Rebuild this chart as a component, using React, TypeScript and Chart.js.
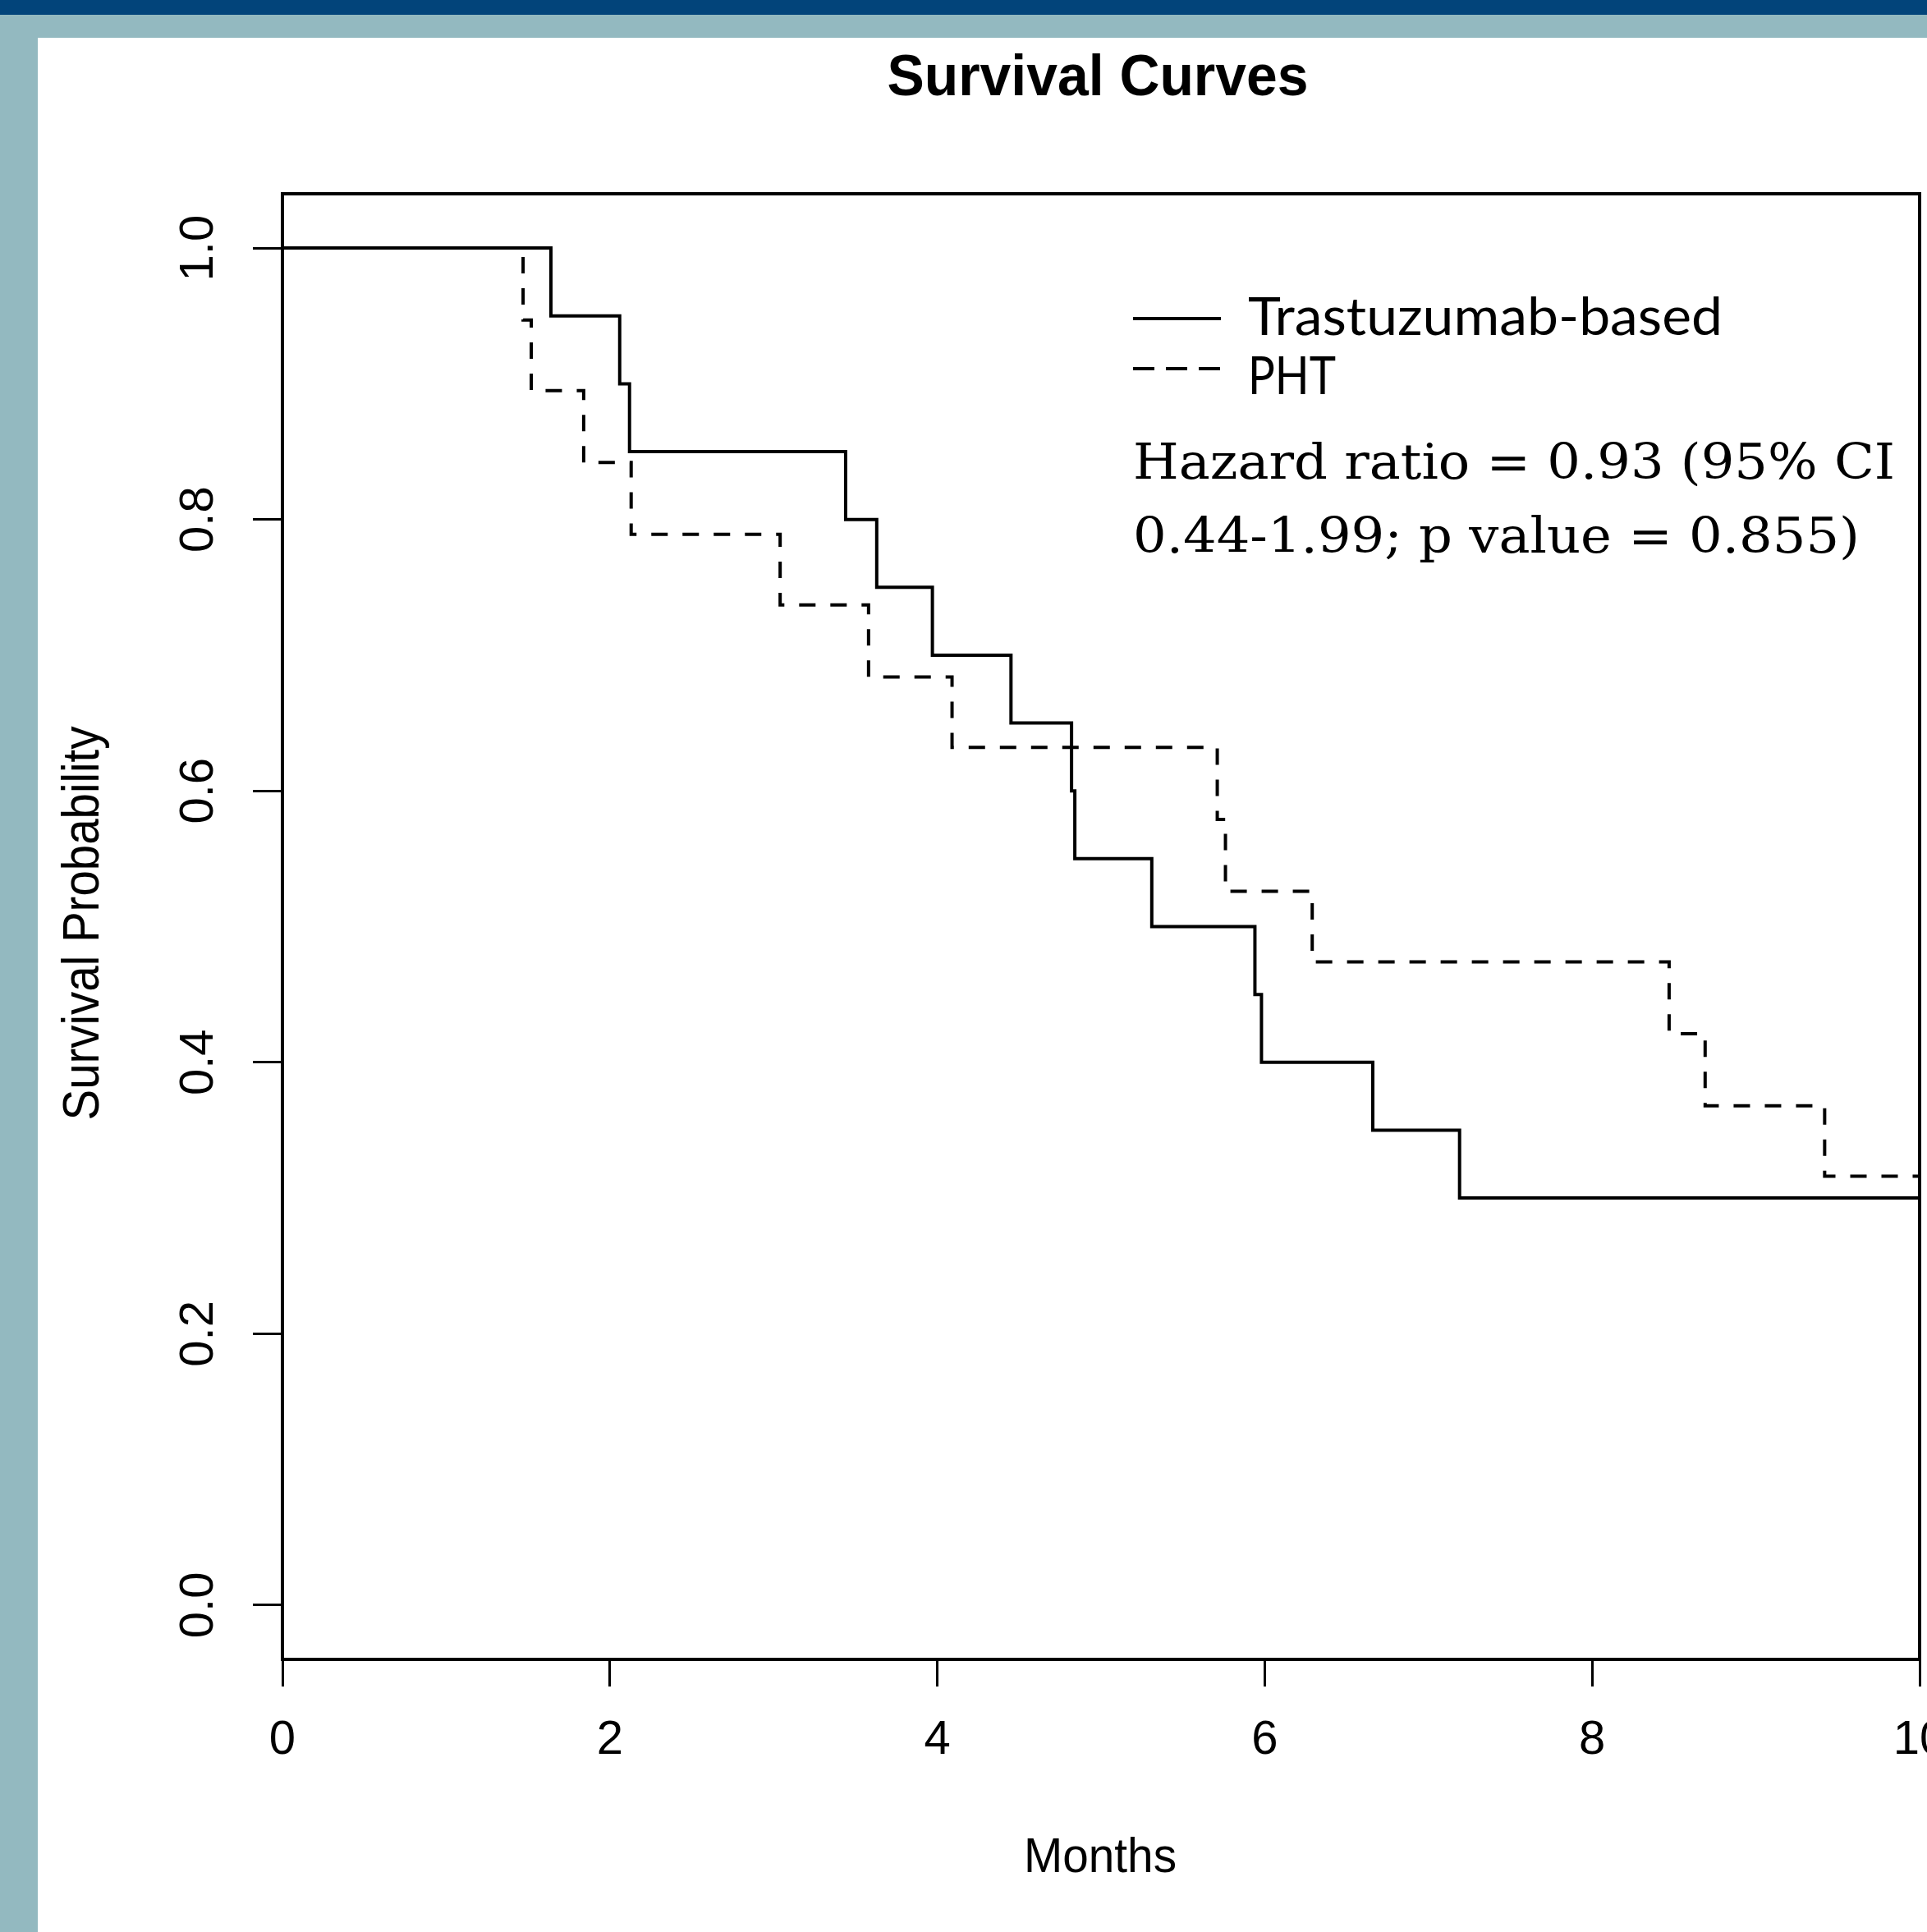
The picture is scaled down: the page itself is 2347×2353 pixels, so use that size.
import React, { useEffect, useRef } from "react";
import { Chart, registerables } from "chart.js";

Chart.register(...registerables);

// ---------- data ----------
const TITLE = "Survival Curves";
const X_LABEL = "Months";
const Y_LABEL = "Survival Probability";
const SERIES_NAMES = ["Trastuzumab-based", "PHT"];
const ANNOTATION_LINES = ["Hazard ratio = 0.93 (95% CI", "0.44-1.99; p value = 0.855)"];

const trastuzumabTimes = [0, 1.64, 2.06, 2.12, 3.44, 3.63, 3.97, 4.45, 4.82, 4.84, 5.31, 5.94, 5.98, 6.66, 7.19, 10];
const trastuzumabSurvival = [1.0, 0.95, 0.9, 0.85, 0.8, 0.75, 0.7, 0.65, 0.6, 0.55, 0.5, 0.45, 0.4, 0.35, 0.3, 0.3];

const phtTimes = [0, 1.47, 1.52, 1.84, 2.13, 3.04, 3.58, 4.09, 5.71, 5.76, 6.29, 8.47, 8.69, 9.42, 10];
const phtSurvival = [1.0, 0.947, 0.895, 0.842, 0.789, 0.737, 0.684, 0.632, 0.579, 0.526, 0.474, 0.421, 0.368, 0.316, 0.316];

const xTicks = [0, 2, 4, 6, 8, 10];
const yTicks = [0, 0.2, 0.4, 0.6, 0.8, 1.0];
const X_RANGE = [0, 10];
const Y_RANGE = [-0.04, 1.04];

// ---------- styling ----------
const W = 2347;
const H = 2353;
const NAVY = "#02447a";
const TEAL = "#93b9c0";
const TICK_FONT = "'Liberation Sans Narrow', 'Liberation Sans', Arial, sans-serif";
const SANS = "'Liberation Sans', Arial, sans-serif";
const PLOT_DASH = [20, 18];

function fitText(
  ctx: CanvasRenderingContext2D,
  text: string,
  x: number,
  y: number,
  width: number,
  font: string,
  align: CanvasTextAlign = "left",
  rotate = 0
) {
  ctx.save();
  ctx.font = font;
  const m = ctx.measureText(text).width || 1;
  ctx.translate(x, y);
  if (rotate) ctx.rotate(rotate);
  ctx.scale(width / m, 1);
  ctx.textAlign = align;
  ctx.textBaseline = "alphabetic";
  ctx.fillStyle = "#000";
  ctx.fillText(text, 0, 0);
  ctx.restore();
}

const framePlugin = {
  id: "rFrame",
  beforeDraw(chart: any) {
    const ctx: CanvasRenderingContext2D = chart.ctx;
    ctx.save();
    ctx.fillStyle = TEAL;
    ctx.fillRect(0, 0, W, H);
    ctx.fillStyle = NAVY;
    ctx.fillRect(0, 0, W, 18);
    ctx.fillStyle = "#ffffff";
    ctx.fillRect(46, 46, W - 46, H - 46);
    ctx.restore();
  },
  afterDatasetsDraw(chart: any) {
    const ctx: CanvasRenderingContext2D = chart.ctx;
    const a = chart.chartArea;
    ctx.save();
    ctx.strokeStyle = "#000";
    ctx.lineWidth = 4;
    ctx.strokeRect(a.left, a.top, a.right - a.left, a.bottom - a.top);
    ctx.restore();
  },
  afterDraw(chart: any) {
    const ctx: CanvasRenderingContext2D = chart.ctx;
    const a = chart.chartArea;
    const cx = (a.left + a.right) / 2;
    const cy = (a.top + a.bottom) / 2;

    // title
    fitText(ctx, TITLE, cx - 4, 116, 513, `bold 70px ${SANS}`, "center");
    // axis titles
    fitText(ctx, X_LABEL, cx - 1, 2280, 186, `60px ${SANS}`, "center");
    fitText(ctx, Y_LABEL, 120, cy - 4, 480, `63px ${SANS}`, "center", -Math.PI / 2);

    // legend
    const ds = chart.data.datasets;
    const legendRows = [
      { y: 388, text: 408, width: 578 },
      { y: 449, text: 480, width: 107 },
    ];
    legendRows.forEach((row, i) => {
      ctx.save();
      ctx.strokeStyle = "#000";
      ctx.lineWidth = 4;
      ctx.setLineDash(i === 0 ? [] : [26, 14]);
      ctx.beginPath();
      ctx.moveTo(1380, row.y);
      ctx.lineTo(1487, row.y);
      ctx.stroke();
      ctx.restore();
      fitText(ctx, ds[i].label, 1520, row.text, row.width, `64px Lato, 'Open Sans', sans-serif`);
    });

    // annotation
    fitText(ctx, ANNOTATION_LINES[0], 1380, 583, 928, `60px 'DejaVu Serif', serif`);
    fitText(ctx, ANNOTATION_LINES[1], 1380, 673, 885, `60px 'DejaVu Serif', serif`);
  },
};

export default function App() {
  const ref = useRef<HTMLCanvasElement | null>(null);

  useEffect(() => {
    if (!ref.current) return;
    const chart = new Chart(ref.current, {
      type: "line",
      data: {
        datasets: [
          {
            label: SERIES_NAMES[0],
            data: trastuzumabTimes.map((t, i) => ({ x: t, y: trastuzumabSurvival[i] })),
            stepped: "before",
            borderColor: "#000",
            borderWidth: 4,
            borderDash: [],
            pointRadius: 0,
            fill: false,
          },
          {
            label: SERIES_NAMES[1],
            data: phtTimes.map((t, i) => ({ x: t, y: phtSurvival[i] })),
            stepped: "before",
            borderColor: "#000",
            borderWidth: 4,
            borderDash: PLOT_DASH,
            pointRadius: 0,
            fill: false,
          },
        ],
      },
      options: {
        responsive: false,
        animation: false,
        devicePixelRatio: 1,
        events: [],
        layout: { padding: { left: 0, top: 236, right: 9, bottom: 0 } },
        plugins: {
          legend: { display: false },
          title: { display: false },
          tooltip: { enabled: false },
        },
        scales: {
          x: {
            type: "linear",
            position: "bottom",
            min: X_RANGE[0],
            max: X_RANGE[1],
            afterBuildTicks: (s: any) => {
              s.ticks = xTicks.map((v) => ({ value: v }));
            },
            afterFit: (s: any) => {
              s.height = 332;
              s.paddingLeft = 0;
              s.paddingRight = 0;
            },
            ticks: {
              autoSkip: false,
              maxRotation: 0,
              minRotation: 0,
              padding: 31,
              color: "#000",
              font: { family: TICK_FONT, size: 58 },
              callback: (v: any) => String(v),
            },
            grid: {
              display: true,
              drawOnChartArea: false,
              drawTicks: true,
              tickLength: 33,
              color: "#000",
              lineWidth: 3,
            },
            border: { display: false },
          },
          y: {
            type: "linear",
            position: "left",
            min: Y_RANGE[0],
            max: Y_RANGE[1],
            afterBuildTicks: (s: any) => {
              s.ticks = yTicks.map((v) => ({ value: v }));
            },
            afterFit: (s: any) => {
              s.width = 344;
              s.paddingTop = 0;
              s.paddingBottom = 0;
            },
            ticks: {
              autoSkip: false,
              minRotation: 90,
              maxRotation: 90,
              crossAlign: "center",
              padding: 25,
              color: "#000",
              font: { family: TICK_FONT, size: 58 },
              callback: (v: any) => Number(v).toFixed(1),
            },
            grid: {
              display: true,
              drawOnChartArea: false,
              drawTicks: true,
              tickLength: 36,
              color: "#000",
              lineWidth: 3,
            },
            border: { display: false },
          },
        },
      },
      plugins: [framePlugin],
    } as any);
    return () => chart.destroy();
  }, []);

  return (
    <div
      style={{
        position: "fixed",
        left: 0,
        top: 0,
        width: W,
        height: H,
        overflow: "hidden",
        background: "#fff",
      }}
    >
      <canvas ref={ref} width={W} height={H} style={{ display: "block", width: W, height: H }} />
    </div>
  );
}
